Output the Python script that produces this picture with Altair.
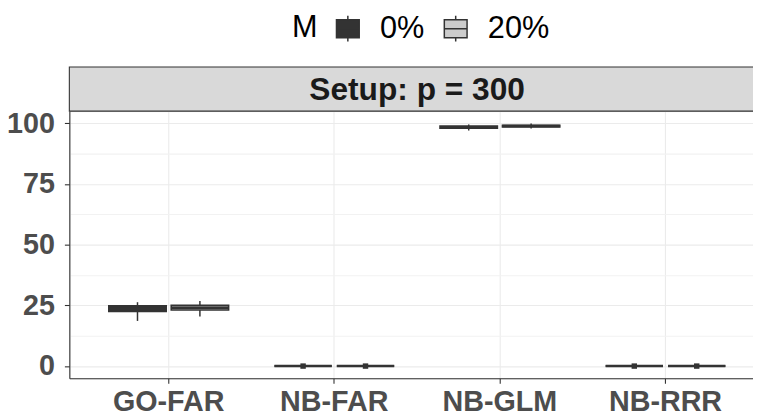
import altair as alt
import pandas as pd

methods = ["GO-FAR", "NB-FAR", "NB-GLM", "NB-RRR"]
m_levels = ["0%", "20%"]

# box statistics, per method, for M = 0% and M = 20%
lo_0 = [18.6, -0.3, 97.0, -0.3]
q1_0 = [22.5, 0.0, 98.0, 0.0]
med_0 = [23.6, 0.0, 98.4, 0.0]
q3_0 = [24.8, 0.0, 98.8, 0.0]
hi_0 = [26.3, 0.3, 99.5, 0.3]

lo_20 = [20.4, -0.3, 97.8, -0.3]
q1_20 = [23.1, 0.0, 98.5, 0.0]
med_20 = [24.0, 0.0, 98.9, 0.0]
q3_20 = [25.0, 0.0, 99.2, 0.0]
hi_20 = [26.8, 0.3, 99.9, 0.3]

# small outlier clusters sitting on the collapsed boxes
out_method = ["NB-FAR", "NB-FAR", "NB-RRR", "NB-RRR"]
out_m = ["0%", "20%", "0%", "20%"]
out_val = [0.0, 0.0, 0.0, 0.0]

y_ticks = [0, 12.5, 25, 37.5, 50, 62.5, 75, 87.5, 100]
strip_label = "Setup: p = 300"

rows = []
for i, meth in enumerate(methods):
    rows.append(dict(method=meth, M="0%", lo=lo_0[i], q1=q1_0[i], med=med_0[i], q3=q3_0[i], hi=hi_0[i]))
    rows.append(dict(method=meth, M="20%", lo=lo_20[i], q1=q1_20[i], med=med_20[i], q3=q3_20[i], hi=hi_20[i]))
df = pd.DataFrame(rows)
df_out = pd.DataFrame(dict(method=out_method, M=out_m, v=out_val))

FONT = "Liberation Sans"
W = 691
H = 270
RANGE_W = 703

x_enc = alt.X(
    "method:N",
    sort=methods,
    title=None,
    scale=alt.Scale(domain=methods, range=[0, RANGE_W], paddingInner=0.25, paddingOuter=0.225),
    axis=alt.Axis(
        labelFont=FONT, labelFontSize=29, labelFontWeight="bold", labelColor="#4d4d4d",
        labelPadding=5, tickSize=5, tickColor="#333333", tickWidth=1.1,
        domainColor="#333333", domainWidth=1.1, labelAngle=0,
        grid=True, gridColor="#ebebeb", gridWidth=1.1, bandPosition=0.5,
    ),
)
xo_enc = alt.XOffset(
    "M:N", sort=m_levels,
    scale=alt.Scale(domain=m_levels, paddingInner=0.08, paddingOuter=0.035),
)
y_scale = alt.Scale(domain=[-5, 105], nice=False, zero=False)
y_axis = alt.Axis(
    values=y_ticks,
    labelExpr="datum.value % 25 == 0 ? datum.label : ''",
    labelFont=FONT, labelFontSize=29, labelFontWeight="bold", labelColor="#4d4d4d",
    labelPadding=10, tickSize=5, tickColor="#333333", tickWidth=1.1,
    tickOpacity={"condition": {"test": "datum.value % 25 != 0", "value": 0}, "value": 1},
    domainColor="#333333", domainWidth=1.1,
    grid=True,
    gridColor={"condition": {"test": "datum.value % 25 != 0", "value": "#f2f2f2"}, "value": "#ebebeb"},
    gridWidth=1.1,
    title=None,
)
fill_scale = alt.Scale(domain=m_levels, range=["#333333", "#cccccc"])

box_symbol = "M-0.75,-0.59H0.75V0.59H-0.75Z M0,-0.59V-0.85 M0,0.59V0.85 M-0.75,0H0.75"

base = alt.Chart(df)

whisk = base.mark_rule(color="#333333", strokeWidth=1.5).encode(
    x=x_enc, xOffset=xo_enc,
    y=alt.Y("lo:Q", scale=y_scale, axis=y_axis),
    y2="hi:Q",
)
box = base.mark_bar(stroke="#333333", strokeWidth=1.6, size=58).encode(
    x=x_enc, xOffset=xo_enc,
    y=alt.Y("q1:Q", scale=y_scale, axis=y_axis),
    y2="q3:Q",
    fill=alt.Fill(
        "M:N", scale=fill_scale, sort=m_levels,
        legend=alt.Legend(
            title="M", orient="none", legendX=225, legendY=-100, direction="horizontal",
            titleOrient="left", titleFont=FONT, titleFontSize=31, titleFontWeight="normal",
            titleColor="#000000", titlePadding=14, titleBaseline="middle",
            labelFont=FONT, labelFontSize=31, labelColor="#000000", labelOffset=16,
            columnPadding=15, symbolType=box_symbol, symbolSize=940,
            symbolStrokeColor="#333333", symbolStrokeWidth=1.5, symbolOpacity=1,
        ),
    ),
)
median = base.mark_tick(color="#333333", thickness=2.5, size=58, opacity=1).encode(
    x=x_enc, xOffset=xo_enc,
    y=alt.Y("med:Q", scale=y_scale, axis=y_axis),
)
outl = alt.Chart(df_out).mark_square(color="#333333", size=30, opacity=1).encode(
    x=x_enc, xOffset=xo_enc,
    y=alt.Y("v:Q", scale=y_scale, axis=y_axis),
)

strip_df = pd.DataFrame(dict(label=[strip_label]))
strip = alt.Chart(strip_df).mark_rect(
    fill="#d9d9d9", stroke="#333333", strokeWidth=1.1, clip=False
).encode(
    x=alt.value(0), x2=alt.value(RANGE_W), y=alt.value(-44.5), y2=alt.value(0),
)
strip_text = alt.Chart(strip_df).mark_text(
    font=FONT, fontSize=32, fontWeight="bold", color="#1a1a1a", baseline="middle", align="center"
).encode(
    text="label:N", x=alt.value(RANGE_W / 2), y=alt.value(-21),
)

chart = alt.layer(whisk, box, median, outl, strip, strip_text).properties(
    width=W, height=H,
    autosize=alt.AutoSizeParams(type="none"),
    padding={"left": 62, "top": 102, "right": 0, "bottom": 38},
).configure_view(stroke=None).configure(background="white")

chart.save("out.html", embed_options={"renderer": "svg", "actions": False})
